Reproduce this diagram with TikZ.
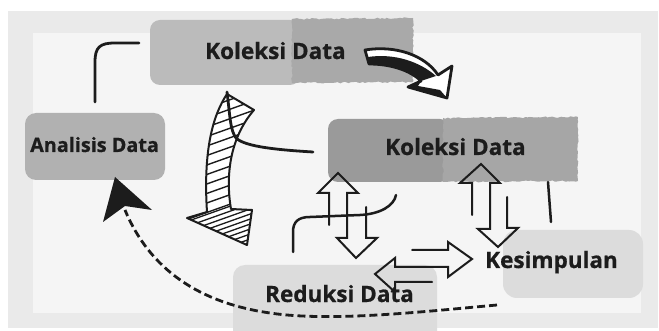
\documentclass[tikz,border=0pt]{standalone}
\usepackage{fontspec}
\setmainfont{Open Sans}
\newfontfamily\lblfont{Open Sans}[BoldFeatures={FakeBold=0.7}]
\usetikzlibrary{decorations.pathmorphing}
\definecolor{frameC}{HTML}{EAEAEA}
\definecolor{innerC}{HTML}{F5F5F5}
\definecolor{topL}{HTML}{BBBBBB}
\definecolor{topR}{HTML}{A9A9A9}
\definecolor{anaC}{HTML}{B1B1B1}
\definecolor{midL}{HTML}{9A9A9A}
\definecolor{midR}{HTML}{A6A6A6}
\definecolor{lightC}{HTML}{DCDCDC}
\definecolor{inkC}{HTML}{1C1C1C}
\begin{document}
\begin{tikzpicture}[x=1pt,y=-1pt,
  lbl/.style={font=\lblfont\bfseries\fontsize{22.5}{22.5}\selectfont, text=inkC, inner sep=0pt, anchor=base west},
  lblsmall/.style={font=\lblfont\bfseries\fontsize{19.8}{19.8}\selectfont, text=inkC, inner sep=0pt, anchor=base west},
  ln/.style={line width=2.8pt, line cap=round, draw=inkC},
  dbl/.style={line width=2pt, draw=inkC, line join=miter, line cap=round},
  rough/.style={decorate, decoration={random steps, segment length=2.5pt, amplitude=0.8pt}}]
\useasboundingbox (0,0) rectangle (659,331);
\fill[white] (0,0) rectangle (659,331);
\fill[frameC] (8,11) rectangle (658,328);
\fill[innerC] (33,33) rectangle (641,313);

% boxes
\fill[topL, rounded corners=10pt] (150,20) rectangle (300,85);
\fill[topR, rough] (292,19) -- (413,18) -- (413,82) -- (292,83) -- cycle;
\fill[anaC, rounded corners=11pt] (25,113) rectangle (165,180);
\fill[midL, rounded corners=10pt] (328,119) rectangle (450,182);
\fill[midR, rough] (443,118) -- (578,117) -- (578,181) -- (443,182) -- cycle;
\fill[lightC, rounded corners=14pt] (503,230) rectangle (643,298);
\fill[lightC, rounded corners=12pt] (233,265) rectangle (437,345);

% labels
\node[lbl] (kol1) at (205,59) {Koleksi Data};
\node[lblsmall] (ana) at (30,152) {Analisis Data};
\node[lbl] (kol2) at (385,155) {Koleksi Data};
\node[lbl] (kes) at (485,268) {Kesimpulan};
\node[lbl] (red) at (265,302) {Reduksi Data};

% line Analisis -> top Koleksi
\draw[ln] (95,102) -- (95,62) .. controls (95,47) and (100,43) .. (115,43) -- (139,43);

% hatched curved arrow
\def\hatchshape{(227,94) .. controls (213,115) and (203,150) .. (207,212) -- (187,218) -- (247,245) -- (252,210) -- (231,209) .. controls (226,180) and (228,140) .. (254,110) -- cycle}
\fill[white] \hatchshape;
\begin{scope}
  \clip \hatchshape;
  \foreach \yy in {98,107.5,...,215} {\draw[line width=1.4pt, inkC] (180,\yy+10) -- (270,\yy-22);}
  \foreach \yy in {214,219,...,270} {\draw[line width=1.3pt, inkC] (180,\yy+10) -- (270,\yy-22);}
\end{scope}
\draw[line width=2pt, inkC, line join=round] \hatchshape;

% line through hatched arrow to middle Koleksi
\draw[ln] (227,92) .. controls (230,115) and (230,130) .. (236,138) .. controls (245,147) and (280,150) .. (313,152);

% top curved black arrow
\def\blkshape{(365,50) .. controls (395,45) and (425,55) .. (438,75) -- (452,66) -- (447,98) -- (408,87) -- (421,81) .. controls (410,70) and (390,64) .. (369,64) -- cycle}
\fill[white] \blkshape;
\fill[inkC] (368,57) .. controls (395,53) and (420,62) .. (436,76) -- (421,81) .. controls (410,70) and (390,64) .. (369,64) -- cycle;
\fill[inkC] (421,81) -- (408,87) -- (447,98) -- (440,90) -- (418,86) -- cycle;
\draw[line width=2.8pt, inkC, line join=round] \blkshape;

% left vertical double arrow
\draw[dbl] (329,225) -- (329,193) -- (318,193) -- (338,173) -- (358,193) -- (347,193) -- (347,238) -- (337,238) -- (356,258) -- (377,238) -- (366,238) -- (366,207);
% S-curve
\draw[ln, line width=2.5pt] (293,252) -- (293,232) .. controls (293,222) and (298,217) .. (310,217) -- (360,215) .. controls (380,214) and (394,206) .. (396,195);

% right vertical double arrow
\draw[dbl] (472,215) -- (472,183) -- (460,183) -- (481,164) -- (500,183) -- (490,183) -- (490,229) -- (478,229) -- (498,247) -- (518,228) -- (507,228) -- (507,197);
% vertical line
\draw[ln, line width=2.5pt] (548,182) -- (551,222);

% horizontal double arrow
\draw[dbl] (412,250) -- (448,250) -- (448,242) -- (472,259) -- (448,277) -- (448,267) -- (395,267) -- (395,258) -- (375,274) -- (395,292) -- (395,282) -- (432,282);

% dashed return arrow
\draw[line width=2.8pt, inkC, dash pattern=on 8pt off 4pt] (497,305) .. controls (420,312) and (330,322) .. (270,313) .. controls (200,303) and (150,270) .. (125,210);
\fill[inkC] (115,177) -- (152,210) -- (125,206) -- (103,222) -- cycle;
\end{tikzpicture}
\end{document}
